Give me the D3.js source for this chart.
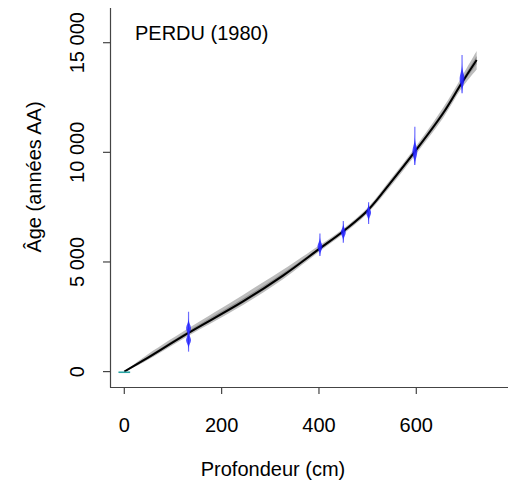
<!DOCTYPE html>
<html><head><meta charset="utf-8">
<script src="https://cdn.jsdelivr.net/npm/d3@7/dist/d3.min.js"></script>
<style>body{margin:0;background:#fff}svg{display:block}text{font-family:"Liberation Sans",Arial,sans-serif;fill:#000}</style>
</head><body><svg id="c" width="508" height="486"></svg>
<script>
// Age-depth model (mean curve and uncertainty envelope)
const modelDepths = [0, 40, 130, 244, 326, 402, 450, 501, 546, 597, 655, 693, 724];
const modelMean   = [0, 520, 1740, 3200, 4380, 5620, 6400, 7370, 8585, 10030, 11780, 13150, 14210];
const modelLow    = [0, 430, 1610, 3035, 4210, 5500, 6285, 7250, 8420, 9860, 11570, 12920, 13780];
const modelHigh   = [0, 660, 1950, 3495, 4640, 5770, 6520, 7500, 8740, 10200, 12030, 13430, 14620];
// Calibrated dates (vertical distributions)
const dateDepths = [132, 402, 450, 502, 597, 694];
const dateModes  = [[1980, 1430], [5700], [6350], [7250], [10030], [13350]];
const dateSd     = [[170, 150], [170], [160], [160], [260], [260]];
const dateMin    = [910, 5270, 5875, 6730, 9420, 12690];
const dateMax    = [2730, 6300, 6865, 7720, 11170, 14440];
// Surface date
const surfaceDepth = 0, surfaceAge = -30, surfaceHalf = 12;
// Axes
const xTicks = [0, 200, 400, 600];
const yTicks = [0, 5000, 10000, 15000];
const yTickLabels = ["0", "5 000", "10 000", "15 000"];
const title = "PERDU (1980)";
const xTitle = "Profondeur (cm)";
const yTitle = "Âge (années AA)";

const svg = d3.select("#c");
const x = d3.scaleLinear().domain([0, 600]).range([124.3, 416.3]);
const y = d3.scaleLinear().domain([0, 15000]).range([371.6, 42.7]);
const axisCol = "#444";
const curve = d3.curveCatmullRom.alpha(0.5);

// envelope
const band = d3.area().x((d,i)=>x(modelDepths[i])).y0((d,i)=>y(modelLow[i])).y1((d,i)=>y(modelHigh[i])).curve(curve);
svg.append("path").attr("d", band(modelDepths)).attr("fill", "#bdbdbd");
const inner = d3.area().x((d,i)=>x(modelDepths[i]))
  .y0((d,i)=>y(modelMean[i] - (modelMean[i]-modelLow[i])*0.45))
  .y1((d,i)=>y(modelMean[i] + (modelHigh[i]-modelMean[i])*0.45)).curve(curve);
svg.append("path").attr("d", inner(modelDepths)).attr("fill", "#959595");
// mean line
const line = d3.line().x((d,i)=>x(modelDepths[i])).y((d,i)=>y(modelMean[i])).curve(curve);
svg.append("path").attr("d", line(modelDepths)).attr("fill", "none").attr("stroke", "#000").attr("stroke-width", 2);

// surface date (horizontal)
svg.append("line").attr("x1", x(surfaceDepth - surfaceHalf)).attr("x2", x(surfaceDepth + surfaceHalf))
  .attr("y1", y(surfaceAge)).attr("y2", y(surfaceAge)).attr("stroke", "#2aa5a5").attr("stroke-width", 1.6);

// dates
dateDepths.forEach((dp, k) => {
  const cx = x(dp);
  svg.append("line").attr("x1", cx).attr("x2", cx).attr("y1", y(dateMin[k])).attr("y2", y(dateMax[k]))
    .attr("stroke", "#7070ff").attr("stroke-width", 1.2);
  const ages = d3.range(dateMin[k], dateMax[k], 10);
  const dens = ages.map(a => d3.sum(dateModes[k], (m, j) => Math.exp(-0.5 * ((a - m) / dateSd[k][j]) ** 2)));
  const mx = d3.max(dens);
  const w = d3.scaleLinear().domain([0, mx]).range([0, 2.4]);
  const ar = d3.area().y((a)=>y(a)).x0((a,i)=>cx - w(dens[i])).x1((a,i)=>cx + w(dens[i]));
  svg.append("path").attr("d", ar(ages)).attr("fill", "#1a1aff").attr("fill-opacity", 0.8);
});

// axes lines
svg.append("line").attr("x1", 110.5).attr("x2", 110.5).attr("y1", 8).attr("y2", 387.5).attr("stroke", axisCol).attr("stroke-width", 1.2);
svg.append("line").attr("x1", 110).attr("x2", 508).attr("y1", 387.5).attr("y2", 387.5).attr("stroke", axisCol).attr("stroke-width", 1.2);

// y ticks
yTicks.forEach((t, i) => {
  svg.append("line").attr("x1", 103).attr("x2", 110.5).attr("y1", y(t)).attr("y2", y(t)).attr("stroke", axisCol).attr("stroke-width", 1.2);
  svg.append("text").attr("transform", `translate(83.5,${y(t)}) rotate(-90)`).attr("text-anchor", "middle")
    .attr("font-size", 20).text(yTickLabels[i]);
});
// x ticks
xTicks.forEach(t => {
  svg.append("line").attr("x1", x(t)).attr("x2", x(t)).attr("y1", 387.5).attr("y2", 394).attr("stroke", axisCol).attr("stroke-width", 1.2);
  svg.append("text").attr("x", x(t)).attr("y", 432).attr("text-anchor", "middle").attr("font-size", 20).text(t);
});
// titles
svg.append("text").attr("x", 273).attr("y", 476).attr("text-anchor", "middle").attr("font-size", 20).text(xTitle);
svg.append("text").attr("transform", "translate(41,177) rotate(-90)").attr("text-anchor", "middle").attr("font-size", 20).text(yTitle);
svg.append("text").attr("x", 135).attr("y", 40).attr("font-size", 20).text(title);
</script></body></html>
